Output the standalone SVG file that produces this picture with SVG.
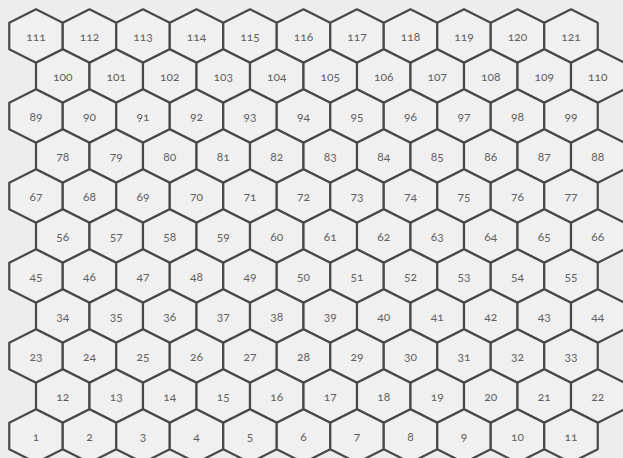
<svg xmlns="http://www.w3.org/2000/svg" xmlns:xlink="http://www.w3.org/1999/xlink" width="623" height="458" viewBox="0 0 623 458">
<style>
.h{fill:#f1f0f1;stroke:#484848;stroke-width:2.2;stroke-linejoin:round}
text{font-family:Lato,"Open Sans","Liberation Sans",sans-serif;font-size:12px;fill:#606060;text-anchor:middle;dominant-baseline:central;font-variant-numeric:oldstyle-nums}
</style>
<defs>
<path id="hex" d="M0,-26.7 L26.75,-13.3 L26.75,13.3 L0,26.7 L-26.75,13.3 L-26.75,-13.3 Z"/>
</defs>
<rect width="623" height="458" fill="#eeeded"/>
<g id="hexes">
<g id="hex-111" transform="translate(36,36)"><use xlink:href="#hex" class="h"/><text>111</text></g>
<g id="hex-112" transform="translate(89.5,36)"><use xlink:href="#hex" class="h"/><text>112</text></g>
<g id="hex-113" transform="translate(143,36)"><use xlink:href="#hex" class="h"/><text>113</text></g>
<g id="hex-114" transform="translate(196.5,36)"><use xlink:href="#hex" class="h"/><text>114</text></g>
<g id="hex-115" transform="translate(250,36)"><use xlink:href="#hex" class="h"/><text>115</text></g>
<g id="hex-116" transform="translate(303.5,36)"><use xlink:href="#hex" class="h"/><text>116</text></g>
<g id="hex-117" transform="translate(357,36)"><use xlink:href="#hex" class="h"/><text>117</text></g>
<g id="hex-118" transform="translate(410.5,36)"><use xlink:href="#hex" class="h"/><text>118</text></g>
<g id="hex-119" transform="translate(464,36)"><use xlink:href="#hex" class="h"/><text>119</text></g>
<g id="hex-120" transform="translate(517.5,36)"><use xlink:href="#hex" class="h"/><text>120</text></g>
<g id="hex-121" transform="translate(571,36)"><use xlink:href="#hex" class="h"/><text>121</text></g>

<g id="hex-100" transform="translate(62.75,76)"><use xlink:href="#hex" class="h"/><text>100</text></g>
<g id="hex-101" transform="translate(116.25,76)"><use xlink:href="#hex" class="h"/><text>101</text></g>
<g id="hex-102" transform="translate(169.75,76)"><use xlink:href="#hex" class="h"/><text>102</text></g>
<g id="hex-103" transform="translate(223.25,76)"><use xlink:href="#hex" class="h"/><text>103</text></g>
<g id="hex-104" transform="translate(276.75,76)"><use xlink:href="#hex" class="h"/><text>104</text></g>
<g id="hex-105" transform="translate(330.25,76)"><use xlink:href="#hex" class="h"/><text>105</text></g>
<g id="hex-106" transform="translate(383.75,76)"><use xlink:href="#hex" class="h"/><text>106</text></g>
<g id="hex-107" transform="translate(437.25,76)"><use xlink:href="#hex" class="h"/><text>107</text></g>
<g id="hex-108" transform="translate(490.75,76)"><use xlink:href="#hex" class="h"/><text>108</text></g>
<g id="hex-109" transform="translate(544.25,76)"><use xlink:href="#hex" class="h"/><text>109</text></g>
<g id="hex-110" transform="translate(597.75,76)"><use xlink:href="#hex" class="h"/><text>110</text></g>

<g id="hex-89" transform="translate(36,116)"><use xlink:href="#hex" class="h"/><text>89</text></g>
<g id="hex-90" transform="translate(89.5,116)"><use xlink:href="#hex" class="h"/><text>90</text></g>
<g id="hex-91" transform="translate(143,116)"><use xlink:href="#hex" class="h"/><text>91</text></g>
<g id="hex-92" transform="translate(196.5,116)"><use xlink:href="#hex" class="h"/><text>92</text></g>
<g id="hex-93" transform="translate(250,116)"><use xlink:href="#hex" class="h"/><text>93</text></g>
<g id="hex-94" transform="translate(303.5,116)"><use xlink:href="#hex" class="h"/><text>94</text></g>
<g id="hex-95" transform="translate(357,116)"><use xlink:href="#hex" class="h"/><text>95</text></g>
<g id="hex-96" transform="translate(410.5,116)"><use xlink:href="#hex" class="h"/><text>96</text></g>
<g id="hex-97" transform="translate(464,116)"><use xlink:href="#hex" class="h"/><text>97</text></g>
<g id="hex-98" transform="translate(517.5,116)"><use xlink:href="#hex" class="h"/><text>98</text></g>
<g id="hex-99" transform="translate(571,116)"><use xlink:href="#hex" class="h"/><text>99</text></g>

<g id="hex-78" transform="translate(62.75,156)"><use xlink:href="#hex" class="h"/><text>78</text></g>
<g id="hex-79" transform="translate(116.25,156)"><use xlink:href="#hex" class="h"/><text>79</text></g>
<g id="hex-80" transform="translate(169.75,156)"><use xlink:href="#hex" class="h"/><text>80</text></g>
<g id="hex-81" transform="translate(223.25,156)"><use xlink:href="#hex" class="h"/><text>81</text></g>
<g id="hex-82" transform="translate(276.75,156)"><use xlink:href="#hex" class="h"/><text>82</text></g>
<g id="hex-83" transform="translate(330.25,156)"><use xlink:href="#hex" class="h"/><text>83</text></g>
<g id="hex-84" transform="translate(383.75,156)"><use xlink:href="#hex" class="h"/><text>84</text></g>
<g id="hex-85" transform="translate(437.25,156)"><use xlink:href="#hex" class="h"/><text>85</text></g>
<g id="hex-86" transform="translate(490.75,156)"><use xlink:href="#hex" class="h"/><text>86</text></g>
<g id="hex-87" transform="translate(544.25,156)"><use xlink:href="#hex" class="h"/><text>87</text></g>
<g id="hex-88" transform="translate(597.75,156)"><use xlink:href="#hex" class="h"/><text>88</text></g>

<g id="hex-67" transform="translate(36,196)"><use xlink:href="#hex" class="h"/><text>67</text></g>
<g id="hex-68" transform="translate(89.5,196)"><use xlink:href="#hex" class="h"/><text>68</text></g>
<g id="hex-69" transform="translate(143,196)"><use xlink:href="#hex" class="h"/><text>69</text></g>
<g id="hex-70" transform="translate(196.5,196)"><use xlink:href="#hex" class="h"/><text>70</text></g>
<g id="hex-71" transform="translate(250,196)"><use xlink:href="#hex" class="h"/><text>71</text></g>
<g id="hex-72" transform="translate(303.5,196)"><use xlink:href="#hex" class="h"/><text>72</text></g>
<g id="hex-73" transform="translate(357,196)"><use xlink:href="#hex" class="h"/><text>73</text></g>
<g id="hex-74" transform="translate(410.5,196)"><use xlink:href="#hex" class="h"/><text>74</text></g>
<g id="hex-75" transform="translate(464,196)"><use xlink:href="#hex" class="h"/><text>75</text></g>
<g id="hex-76" transform="translate(517.5,196)"><use xlink:href="#hex" class="h"/><text>76</text></g>
<g id="hex-77" transform="translate(571,196)"><use xlink:href="#hex" class="h"/><text>77</text></g>

<g id="hex-56" transform="translate(62.75,236)"><use xlink:href="#hex" class="h"/><text>56</text></g>
<g id="hex-57" transform="translate(116.25,236)"><use xlink:href="#hex" class="h"/><text>57</text></g>
<g id="hex-58" transform="translate(169.75,236)"><use xlink:href="#hex" class="h"/><text>58</text></g>
<g id="hex-59" transform="translate(223.25,236)"><use xlink:href="#hex" class="h"/><text>59</text></g>
<g id="hex-60" transform="translate(276.75,236)"><use xlink:href="#hex" class="h"/><text>60</text></g>
<g id="hex-61" transform="translate(330.25,236)"><use xlink:href="#hex" class="h"/><text>61</text></g>
<g id="hex-62" transform="translate(383.75,236)"><use xlink:href="#hex" class="h"/><text>62</text></g>
<g id="hex-63" transform="translate(437.25,236)"><use xlink:href="#hex" class="h"/><text>63</text></g>
<g id="hex-64" transform="translate(490.75,236)"><use xlink:href="#hex" class="h"/><text>64</text></g>
<g id="hex-65" transform="translate(544.25,236)"><use xlink:href="#hex" class="h"/><text>65</text></g>
<g id="hex-66" transform="translate(597.75,236)"><use xlink:href="#hex" class="h"/><text>66</text></g>

<g id="hex-45" transform="translate(36,276)"><use xlink:href="#hex" class="h"/><text>45</text></g>
<g id="hex-46" transform="translate(89.5,276)"><use xlink:href="#hex" class="h"/><text>46</text></g>
<g id="hex-47" transform="translate(143,276)"><use xlink:href="#hex" class="h"/><text>47</text></g>
<g id="hex-48" transform="translate(196.5,276)"><use xlink:href="#hex" class="h"/><text>48</text></g>
<g id="hex-49" transform="translate(250,276)"><use xlink:href="#hex" class="h"/><text>49</text></g>
<g id="hex-50" transform="translate(303.5,276)"><use xlink:href="#hex" class="h"/><text>50</text></g>
<g id="hex-51" transform="translate(357,276)"><use xlink:href="#hex" class="h"/><text>51</text></g>
<g id="hex-52" transform="translate(410.5,276)"><use xlink:href="#hex" class="h"/><text>52</text></g>
<g id="hex-53" transform="translate(464,276)"><use xlink:href="#hex" class="h"/><text>53</text></g>
<g id="hex-54" transform="translate(517.5,276)"><use xlink:href="#hex" class="h"/><text>54</text></g>
<g id="hex-55" transform="translate(571,276)"><use xlink:href="#hex" class="h"/><text>55</text></g>

<g id="hex-34" transform="translate(62.75,316)"><use xlink:href="#hex" class="h"/><text>34</text></g>
<g id="hex-35" transform="translate(116.25,316)"><use xlink:href="#hex" class="h"/><text>35</text></g>
<g id="hex-36" transform="translate(169.75,316)"><use xlink:href="#hex" class="h"/><text>36</text></g>
<g id="hex-37" transform="translate(223.25,316)"><use xlink:href="#hex" class="h"/><text>37</text></g>
<g id="hex-38" transform="translate(276.75,316)"><use xlink:href="#hex" class="h"/><text>38</text></g>
<g id="hex-39" transform="translate(330.25,316)"><use xlink:href="#hex" class="h"/><text>39</text></g>
<g id="hex-40" transform="translate(383.75,316)"><use xlink:href="#hex" class="h"/><text>40</text></g>
<g id="hex-41" transform="translate(437.25,316)"><use xlink:href="#hex" class="h"/><text>41</text></g>
<g id="hex-42" transform="translate(490.75,316)"><use xlink:href="#hex" class="h"/><text>42</text></g>
<g id="hex-43" transform="translate(544.25,316)"><use xlink:href="#hex" class="h"/><text>43</text></g>
<g id="hex-44" transform="translate(597.75,316)"><use xlink:href="#hex" class="h"/><text>44</text></g>

<g id="hex-23" transform="translate(36,356)"><use xlink:href="#hex" class="h"/><text>23</text></g>
<g id="hex-24" transform="translate(89.5,356)"><use xlink:href="#hex" class="h"/><text>24</text></g>
<g id="hex-25" transform="translate(143,356)"><use xlink:href="#hex" class="h"/><text>25</text></g>
<g id="hex-26" transform="translate(196.5,356)"><use xlink:href="#hex" class="h"/><text>26</text></g>
<g id="hex-27" transform="translate(250,356)"><use xlink:href="#hex" class="h"/><text>27</text></g>
<g id="hex-28" transform="translate(303.5,356)"><use xlink:href="#hex" class="h"/><text>28</text></g>
<g id="hex-29" transform="translate(357,356)"><use xlink:href="#hex" class="h"/><text>29</text></g>
<g id="hex-30" transform="translate(410.5,356)"><use xlink:href="#hex" class="h"/><text>30</text></g>
<g id="hex-31" transform="translate(464,356)"><use xlink:href="#hex" class="h"/><text>31</text></g>
<g id="hex-32" transform="translate(517.5,356)"><use xlink:href="#hex" class="h"/><text>32</text></g>
<g id="hex-33" transform="translate(571,356)"><use xlink:href="#hex" class="h"/><text>33</text></g>

<g id="hex-12" transform="translate(62.75,396)"><use xlink:href="#hex" class="h"/><text>12</text></g>
<g id="hex-13" transform="translate(116.25,396)"><use xlink:href="#hex" class="h"/><text>13</text></g>
<g id="hex-14" transform="translate(169.75,396)"><use xlink:href="#hex" class="h"/><text>14</text></g>
<g id="hex-15" transform="translate(223.25,396)"><use xlink:href="#hex" class="h"/><text>15</text></g>
<g id="hex-16" transform="translate(276.75,396)"><use xlink:href="#hex" class="h"/><text>16</text></g>
<g id="hex-17" transform="translate(330.25,396)"><use xlink:href="#hex" class="h"/><text>17</text></g>
<g id="hex-18" transform="translate(383.75,396)"><use xlink:href="#hex" class="h"/><text>18</text></g>
<g id="hex-19" transform="translate(437.25,396)"><use xlink:href="#hex" class="h"/><text>19</text></g>
<g id="hex-20" transform="translate(490.75,396)"><use xlink:href="#hex" class="h"/><text>20</text></g>
<g id="hex-21" transform="translate(544.25,396)"><use xlink:href="#hex" class="h"/><text>21</text></g>
<g id="hex-22" transform="translate(597.75,396)"><use xlink:href="#hex" class="h"/><text>22</text></g>

<g id="hex-1" transform="translate(36,436)"><use xlink:href="#hex" class="h"/><text>1</text></g>
<g id="hex-2" transform="translate(89.5,436)"><use xlink:href="#hex" class="h"/><text>2</text></g>
<g id="hex-3" transform="translate(143,436)"><use xlink:href="#hex" class="h"/><text>3</text></g>
<g id="hex-4" transform="translate(196.5,436)"><use xlink:href="#hex" class="h"/><text>4</text></g>
<g id="hex-5" transform="translate(250,436)"><use xlink:href="#hex" class="h"/><text>5</text></g>
<g id="hex-6" transform="translate(303.5,436)"><use xlink:href="#hex" class="h"/><text>6</text></g>
<g id="hex-7" transform="translate(357,436)"><use xlink:href="#hex" class="h"/><text>7</text></g>
<g id="hex-8" transform="translate(410.5,436)"><use xlink:href="#hex" class="h"/><text>8</text></g>
<g id="hex-9" transform="translate(464,436)"><use xlink:href="#hex" class="h"/><text>9</text></g>
<g id="hex-10" transform="translate(517.5,436)"><use xlink:href="#hex" class="h"/><text>10</text></g>
<g id="hex-11" transform="translate(571,436)"><use xlink:href="#hex" class="h"/><text>11</text></g>
</g>
</svg>
